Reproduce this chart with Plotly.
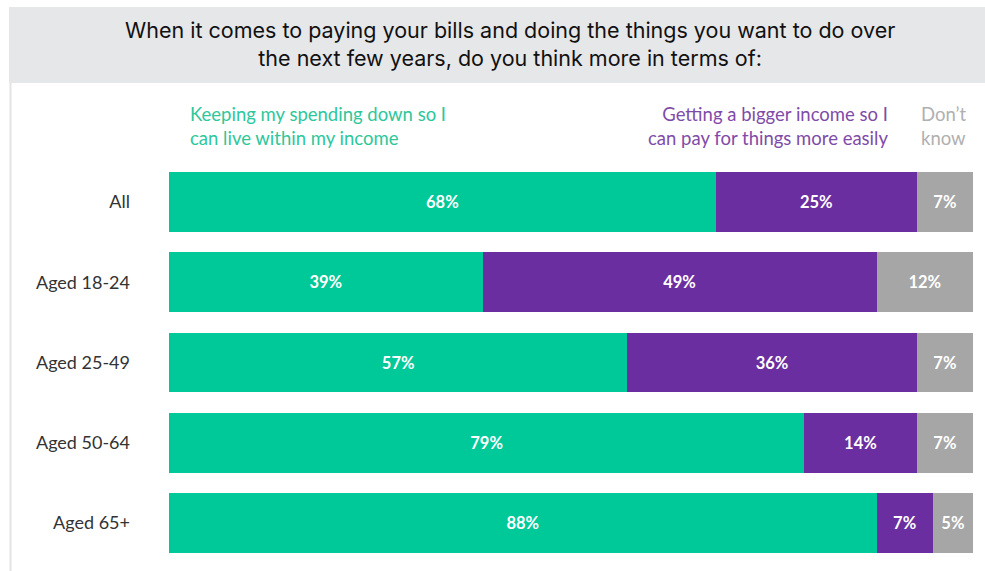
import plotly.graph_objects as go

# Survey responses by age group (percent of respondents)
groups = ["All", "Aged 18-24", "Aged 25-49", "Aged 50-64", "Aged 65+"]
spending_down = [68, 39, 57, 79, 88]
bigger_income = [25, 49, 36, 14, 7]
dont_know = [7, 12, 7, 7, 5]

series_names = [
    "Keeping my spending down so I<br>can live within my income",
    "Getting a bigger income so I<br>can pay for things more easily",
    "Don’t<br>know",
]
series_values = [spending_down, bigger_income, dont_know]
bar_colors = ["#00C999", "#6B2EA0", "#A6A6A6"]
header_colors = ["#2EC79B", "#7F4BA8", "#B0B0B0"]

title_text = ("When it comes to paying your bills and doing the things you want to do over"
              "<br>the next few years, do you think more in terms of:")

W, H = 985, 571
L, R, T, B = 169, 12, 162, 8
plot_w = W - L - R
plot_h = H - T - B


def px_x(x):
    return (x - L) / plot_w


def px_y(y):
    return (H - B - y) / plot_h


fig = go.Figure()
for name, vals, color in zip(series_names, series_values, bar_colors):
    fig.add_trace(go.Bar(
        y=groups,
        x=vals,
        name=name,
        orientation="h",
        marker=dict(color=color, line=dict(width=0)),
        text=[f"{v}%" for v in vals],
        textposition="inside",
        insidetextanchor="middle",
        textfont=dict(family="Lato", size=16.5, color="white", weight="bold"),
        cliponaxis=False,
        hoverinfo="skip",
    ))

# Grey title band and thin left rule
fig.add_shape(type="rect", xref="paper", yref="paper",
              x0=px_x(9), x1=px_x(W + 2), y0=px_y(83), y1=px_y(7),
              fillcolor="#E6E7E9", line=dict(width=0), layer="below")
fig.add_shape(type="line", xref="paper", yref="paper",
              x0=px_x(10.5), x1=px_x(10.5), y0=px_y(83), y1=px_y(H + 2),
              line=dict(color="#E3E3E3", width=2), layer="below")

fig.add_annotation(text=title_text, xref="paper", yref="paper",
                   x=px_x(510), y=px_y(44), xanchor="center", yanchor="middle",
                   showarrow=False, align="center",
                   font=dict(family="Inter", size=21.5, color="#111111"))

# Column headers
header_pos = [(188, "left"), (890, "right"), (919, "left")]
for name, color, (hx, anchor) in zip(series_names, header_colors, header_pos):
    fig.add_annotation(text=name, xref="paper", yref="paper",
                       x=px_x(hx), y=px_y(126), xanchor=anchor, yanchor="middle",
                       showarrow=False, align=anchor,
                       font=dict(family="Lato", size=18.5, color=color))

fig.update_layout(
    width=W, height=H,
    margin=dict(l=L, r=R, t=T, b=B, pad=0),
    barmode="stack",
    bargap=0.255,
    showlegend=False,
    plot_bgcolor="white",
    paper_bgcolor="white",
    xaxis=dict(range=[0, 100], visible=False, fixedrange=True),
    yaxis=dict(autorange="reversed", showgrid=False, zeroline=False,
               showline=False, ticks="", ticklabelstandoff=38,
               tickfont=dict(family="Lato", size=18, color="#333333")),
)

fig.write_html("out.html")
